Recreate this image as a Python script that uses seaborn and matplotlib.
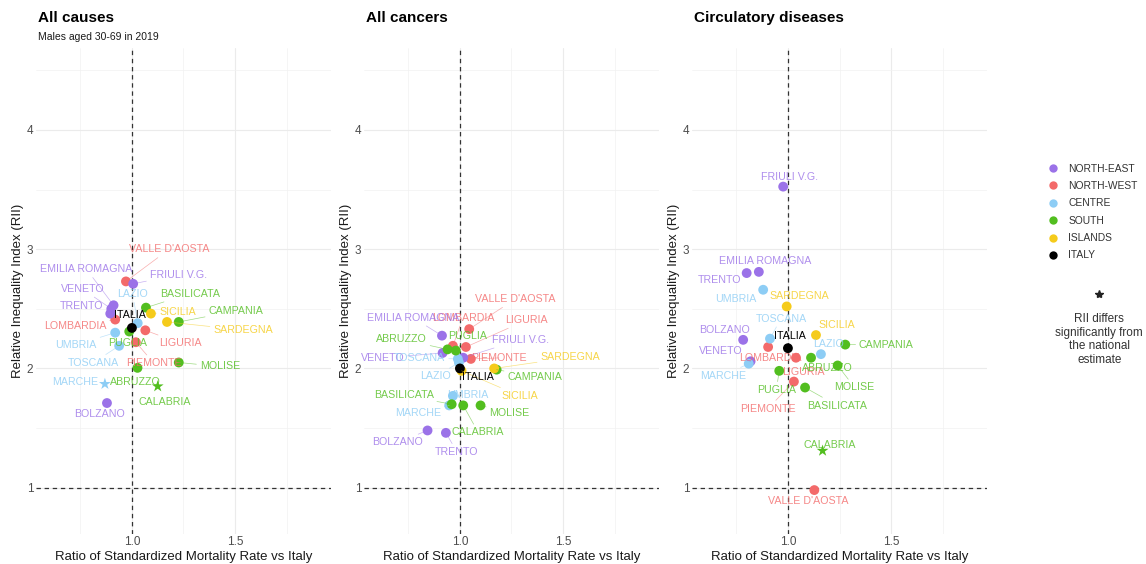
import numpy as np
import pandas as pd
import seaborn as sns
import matplotlib.pyplot as plt
from matplotlib.lines import Line2D

sns.set_theme(style="whitegrid")
plt.rcParams['font.family'] = ['Liberation Sans', 'DejaVu Sans']

# data
regions = ['PIEMONTE', "VALLE D'AOSTA", 'LOMBARDIA', 'LIGURIA',
           'BOLZANO', 'TRENTO', 'VENETO', 'FRIULI V.G.', 'EMILIA ROMAGNA',
           'TOSCANA', 'UMBRIA', 'MARCHE', 'LAZIO',
           'ABRUZZO', 'MOLISE', 'CAMPANIA', 'PUGLIA', 'BASILICATA', 'CALABRIA',
           'SICILIA', 'SARDEGNA', 'ITALIA']
areas = ['NORTH-WEST', 'NORTH-WEST', 'NORTH-WEST', 'NORTH-WEST',
         'NORTH-EAST', 'NORTH-EAST', 'NORTH-EAST', 'NORTH-EAST', 'NORTH-EAST',
         'CENTRE', 'CENTRE', 'CENTRE', 'CENTRE',
         'SOUTH', 'SOUTH', 'SOUTH', 'SOUTH', 'SOUTH', 'SOUTH',
         'ISLANDS', 'ISLANDS', 'ITALY']
causes = ['All causes', 'All cancers', 'Circulatory diseases']

smr_all = [1.019, 0.971, 0.919, 1.065, 0.879, 0.895, 0.900, 1.006, 0.911,
           0.938, 0.919, 0.869, 1.028, 1.027, 1.227, 1.227, 0.987, 1.068, 1.125,
           1.092, 1.170, 1.000]
rii_all = [2.22, 2.73, 2.41, 2.32, 1.71, 2.46, 2.50, 2.71, 2.53,
           2.19, 2.30, 1.87, 2.38, 2.005, 2.05, 2.39, 2.31, 2.51, 1.85,
           2.46, 2.39, 2.34]
smr_cancer = [1.053, 1.045, 0.966, 1.029, 0.843, 0.932, 0.916, 1.016, 0.913,
              0.990, 0.966, 0.948, 0.995, 0.940, 1.100, 1.178, 0.980, 0.960, 1.016,
              1.008, 1.166, 1.000]
rii_cancer = [2.08, 2.33, 2.19, 2.18, 1.48, 1.46, 2.13, 2.09, 2.275,
              2.08, 1.77, 1.69, 2.05, 2.16, 1.69, 1.99, 2.15, 1.70, 1.69,
              1.98, 2.00, 2.00]
smr_circ = [1.029, 1.128, 0.904, 1.039, 0.783, 0.800, 0.819, 0.977, 0.859,
            0.913, 0.880, 0.810, 1.160, 1.112, 1.241, 1.278, 0.958, 1.083, 1.168,
            1.136, 0.994, 1.000]
rii_circ = [1.89, 0.98, 2.18, 2.09, 2.24, 2.80, 2.06, 3.525, 2.81,
            2.25, 2.66, 2.04, 2.12, 2.09, 2.025, 2.20, 1.98, 1.84, 1.31,
            2.28, 2.52, 2.17]
sig_all = ['MARCHE', 'CALABRIA']
sig_cancer = []
sig_circ = ['CALABRIA']

area_order = ['NORTH-EAST', 'NORTH-WEST', 'CENTRE', 'SOUTH', 'ISLANDS', 'ITALY']
palette = {'NORTH-EAST': '#9B72E8', 'NORTH-WEST': '#F36A6A', 'CENTRE': '#8DCDF5',
           'SOUTH': '#52BE1F', 'ISLANDS': '#F5CB1B', 'ITALY': '#000000'}

# label placement (screen pixels from the point, x right / y down)
off_all = {"VALLE D'AOSTA": (43, -32), 'EMILIA ROMAGNA': (-27, -36), 'FRIULI V.G.': (45, -9),
           'VENETO': (-29, -20), 'LAZIO': (-5, -29), 'BASILICATA': (44, -14),
           'TRENTO': (-29, -8), 'ITALIA': (-2, -13), 'SICILIA': (27, -2),
           'CAMPANIA': (57, -11), 'LOMBARDIA': (-40, 6), 'SARDEGNA': (76, 8),
           'UMBRIA': (-39, 12), 'PUGLIA': (-2, 12), 'LIGURIA': (35, 13),
           'TOSCANA': (-26, 17), 'PIEMONTE': (18, 21), 'MOLISE': (41, 4),
           'MARCHE': (-30, -2), 'ABRUZZO': (-2, 14), 'CALABRIA': (7, 16),
           'BOLZANO': (-7, 11)}
off_cancer = {"VALLE D'AOSTA": (46, -30), 'EMILIA ROMAGNA': (-29, -18), 'LOMBARDIA': (10, -28),
              'LIGURIA': (61, -27), 'ABRUZZO': (-46, -10), 'PUGLIA': (12, -15),
              'FRIULI V.G.': (57, -18), 'VENETO': (-60, 5), 'TOSCANA': (-38, -1),
              'PIEMONTE': (28, -1), 'SARDEGNA': (76, -11), 'LAZIO': (-23, 14),
              'ITALIA': (18, 9), 'CAMPANIA': (38, 7), 'BASILICATA': (-48, -9),
              'UMBRIA': (15, -1), 'SICILIA': (58, 25), 'MARCHE': (-31, 8),
              'MOLISE': (29, 8), 'CALABRIA': (15, 27), 'BOLZANO': (-30, 12),
              'TRENTO': (11, 19)}
off_circ = {'FRIULI V.G.': (6, -10), 'EMILIA ROMAGNA': (6, -11), 'TRENTO': (-27, 7),
            'UMBRIA': (-27, 9), 'SARDEGNA': (13, -10), 'TOSCANA': (11, -20),
            'SICILIA': (21, -10), 'BOLZANO': (-19, -10), 'ITALIA': (2, -12),
            'CAMPANIA': (41, 0), 'VENETO': (-30, -10), 'LAZIO': (8, -10),
            'LOMBARDIA': (2, 11), 'MARCHE': (-26, 12), 'ABRUZZO': (16, 10),
            'LIGURIA': (7, 14), 'MOLISE': (17, 22), 'PUGLIA': (-3, 19),
            'PIEMONTE': (-26, 27), 'BASILICATA': (32, 18), 'CALABRIA': (7, -6),
            "VALLE D'AOSTA": (-6, 11)}

frames = []
for cause, smr, rii, sig in zip(causes, [smr_all, smr_cancer, smr_circ],
                                [rii_all, rii_cancer, rii_circ],
                                [sig_all, sig_cancer, sig_circ]):
    frames.append(pd.DataFrame({'region': regions, 'area': areas, 'smr': smr, 'rii': rii,
                                'cause': cause, 'sig': [r in sig for r in regions]}))
df = pd.concat(frames, ignore_index=True)
offsets = dict(zip(causes, [off_all, off_cancer, off_circ]))

W, H = 1146, 564
fig = plt.figure(figsize=(W / 100, H / 100), dpi=100)
lefts = [36, 364, 692]
axes = [fig.add_axes([l / W, (H - 533.6) / H, 295 / W, 485.3 / H]) for l in lefts]

for ax, cause, left in zip(axes, causes, lefts):
    sub = df[df['cause'] == cause]
    ax.axvline(1, color='#333333', lw=0.9, ls=(0, (3.5, 3)), zorder=1)
    ax.axhline(1, color='#333333', lw=0.9, ls=(0, (3.5, 3)), zorder=1)
    sns.scatterplot(data=sub[~sub['sig']], x='smr', y='rii', hue='area', palette=palette,
                    marker='o', s=50, edgecolor='none', legend=False, ax=ax, zorder=3)
    if sub['sig'].any():
        sns.scatterplot(data=sub[sub['sig']], x='smr', y='rii', hue='area', palette=palette,
                        marker='*', s=80, edgecolor='none', legend=False, ax=ax, zorder=3)

    off = offsets[cause]
    for _, row in sub.iterrows():
        col = palette[row['area']]
        dx, dy = off[row['region']]
        arrow = None
        if np.hypot(dx, dy) > 18:
            arrow = dict(arrowstyle='-', color=col, lw=0.5, alpha=0.55, shrinkA=0, shrinkB=0)
        ax.annotate(row['region'], (row['smr'], row['rii']), xytext=(dx, -dy),
                    textcoords='offset pixels', ha='center', va='center',
                    fontsize=7.7, color=col, alpha=0.8 if row['area'] != 'ITALY' else 1,
                    arrowprops=arrow, zorder=4)

    ax.set_xlim(0.535, 1.965)
    ax.set_ylim(0.615, 4.685)
    ax.set_xticks([1.0, 1.5])
    ax.set_xticklabels(['1.0', '1.5'])
    ax.set_xticks([0.75, 1.25, 1.75], minor=True)
    ax.set_yticks([1, 2, 3, 4])
    ax.set_yticks([1.5, 2.5, 3.5, 4.5], minor=True)
    ax.grid(which='major', color='#EBEBEB', lw=0.8)
    ax.grid(which='minor', color='#F2F2F2', lw=0.5)
    ax.set_facecolor('white')
    for s in ax.spines.values():
        s.set_visible(False)
    ax.tick_params(which='both', length=0, labelsize=8.5, labelcolor='#4D4D4D', pad=2)
    ax.set_xlabel('Ratio of Standardized Mortality Rate vs Italy', fontsize=9.5,
                  color='#1A1A1A', labelpad=2)
    ax.set_ylabel('Relative Inequality Index (RII)', fontsize=9.5, color='#1A1A1A', labelpad=2)
    fig.text((left + 2) / W, 1 - 18 / H, cause, fontsize=11, fontweight='bold',
             ha='left', va='center', color='#000000')

fig.text(38 / W, 1 - 37 / H, 'Males aged 30-69 in 2019', fontsize=7.5,
         ha='left', va='center', color='#1A1A1A')

handles = [Line2D([], [], marker='o', ls='', color=palette[a], markersize=6,
                  markeredgewidth=0) for a in area_order]
fig.legend(handles, area_order, loc='upper left', bbox_to_anchor=(1047.7 / W, 1 - 163.5 / H),
           frameon=False, fontsize=7.4, handlelength=1, handletextpad=1.0,
           labelspacing=0.72, borderaxespad=0, borderpad=0, labelcolor='#333333')

fig.add_artist(Line2D([1099.3 / W], [1 - 294 / H], marker='*', color='#222222',
                      markersize=6, ls='', transform=fig.transFigure))
fig.text(1099.3 / W, 1 - 339.5 / H, 'RII differs\nsignificantly from\nthe national\nestimate',
         fontsize=8.5, ha='center', va='center', linespacing=1.15, color='#333333')

fig.savefig('out.png', dpi=100, facecolor='white')
